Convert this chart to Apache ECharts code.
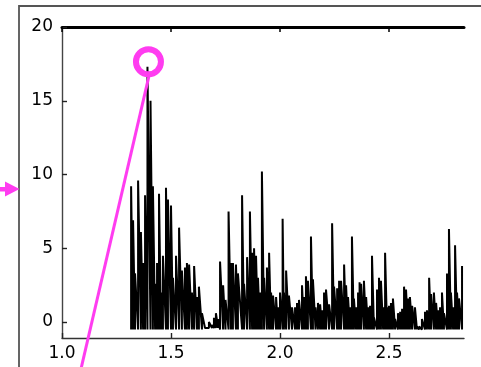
<!DOCTYPE html>
<html><head><meta charset="utf-8">
<script src="https://cdn.jsdelivr.net/npm/echarts@6/dist/echarts.min.js"></script>
<style>html,body{margin:0;padding:0;background:#fff}#c{width:481px;height:367px}</style>
</head><body><div id="c"></div>
<script>
// x positions of spectral lines
const peakX = [
 1.317,1.326,1.335,1.349,1.362,1.372,1.381,1.392,1.406,1.417,1.427,1.436,
 1.445,1.454,1.463,1.477,1.486,1.500,1.509,1.523,1.537,1.550,1.564,1.573,
 1.583,1.596,1.606,1.619,1.628,1.642,1.656,1.674,1.688,1.697,1.706,1.716,
 1.725,1.739,1.750,1.764,1.775,1.784,1.798,1.807,1.826,1.835,1.849,1.862,
 1.872,1.881,1.890,1.899,1.908,1.917,1.927,1.940,1.950,1.959,1.968,1.982,
 1.991,2.000,2.012,2.018,2.028,2.041,2.055,2.069,2.078,2.087,2.101,2.110,
 2.119,2.128,2.142,2.151,2.163,2.174,2.184,2.193,2.202,2.211,2.225,2.239,
 2.248,2.262,2.271,2.280,2.294,2.303,2.312,2.321,2.330,2.339,2.349,2.358,
 2.365,2.372,2.385,2.395,2.404,2.413,2.422,2.431,2.445,2.454,2.463,2.473,
 2.482,2.491,2.500,2.509,2.518,2.528,2.541,2.551,2.560,2.569,2.578,2.587,
 2.596,2.606,2.619,2.628,2.638,2.651,2.665,2.674,2.684,2.693,2.706,2.716,
 2.725,2.734,2.743,2.752,2.766,2.775,2.784,2.794,2.803,2.812,2.821,2.835
];
// peak heights
const peakY = [
 9.2,6.9,3.3,9.6,6.1,4.0,8.6,17.3,15.0,9.2,2.6,4.0,
 8.7,2.0,4.5,9.1,8.3,7.9,3.0,4.5,6.4,3.5,3.7,4.0,
 3.9,2.0,3.8,1.7,2.4,0.6,-0.3,0.0,-0.2,0.3,0.6,0.2,
 4.1,2.5,1.5,7.5,4.0,4.0,3.9,3.3,8.6,2.6,4.4,7.5,
 4.7,5.0,4.5,3.0,2.0,10.2,3.0,3.7,4.7,2.0,1.8,1.7,
 1.0,2.0,7.0,2.0,3.5,1.8,1.0,1.0,1.3,1.5,2.5,1.7,
 3.1,2.8,5.8,2.9,1.0,1.3,1.2,0.8,2.0,2.2,1.2,6.7,
 2.4,2.3,2.8,2.8,3.9,2.5,1.7,1.0,5.8,1.6,1.0,2.0,
 2.7,2.6,2.8,1.7,1.0,1.1,4.5,0.3,2.2,3.0,2.8,1.0,
 4.7,1.0,1.1,1.3,1.6,0.2,0.6,0.7,0.9,2.4,2.2,1.6,
 1.7,1.1,1.0,-0.3,-0.3,0.2,0.7,0.8,3.0,1.9,2.0,1.3,
 0.8,1.0,2.0,0.6,3.3,6.3,2.0,1.0,5.2,2.0,1.6,3.8
];
// lower end of each line (baseline)
const troughY = [
 -0.5,-0.5,-0.5,-0.5,-0.5,-0.5,-0.5,-0.5,-0.5,-0.5,-0.5,-0.5,
 -0.5,-0.5,-0.5,-0.5,-0.5,-0.5,-0.5,-0.5,-0.5,-0.5,-0.5,-0.5,
 -0.5,-0.5,-0.5,-0.5,-0.5,-0.5,-0.4,-0.4,-0.4,-0.4,-0.4,-0.4,
 -0.5,-0.5,-0.5,-0.5,-0.5,-0.5,-0.5,-0.5,-0.5,-0.5,-0.5,-0.5,
 -0.5,-0.5,-0.5,-0.5,-0.5,-0.5,-0.5,-0.5,-0.5,-0.5,-0.5,-0.5,
 -0.5,-0.5,-0.5,-0.5,-0.5,-0.5,-0.5,-0.5,-0.5,-0.5,-0.5,-0.5,
 -0.5,-0.5,-0.5,-0.5,-0.5,-0.5,-0.5,-0.5,-0.5,-0.5,-0.5,-0.5,
 -0.5,-0.5,-0.5,-0.5,-0.5,-0.5,-0.5,-0.5,-0.5,-0.5,-0.5,-0.5,
 -0.5,-0.5,-0.5,-0.5,-0.5,-0.5,-0.5,-0.5,-0.5,-0.5,-0.5,-0.5,
 -0.5,-0.5,-0.5,-0.5,-0.5,-0.5,-0.5,-0.5,-0.5,-0.5,-0.5,-0.5,
 -0.5,-0.5,-0.5,-0.5,-0.5,-0.5,-0.5,-0.5,-0.5,-0.5,-0.5,-0.5,
 -0.5,-0.5,-0.5,-0.5,-0.5,-0.5,-0.5,-0.5,-0.5,-0.5,-0.5,-0.5
];
const xTicks = [1.0, 1.5, 2.0, 2.5];
const yTicks = [0, 5, 10, 15, 20];

const MAG = '#ff3cf0';
const vertices = [];
for (let i = 0; i < peakX.length; i++) {
  vertices.push([peakX[i], troughY[i]]);
  vertices.push([peakX[i], peakY[i]]);
}

const chart = echarts.init(document.getElementById('c'), null, {renderer: 'canvas'});
const font = {fontFamily: 'DejaVu Sans', fontSize: 17, color: '#000'};
chart.setOption({
  animation: false,
  backgroundColor: '#fff',
  grid: {left: 62, right: 17, top: 27, bottom: 29, containLabel: false},
  xAxis: [{
    type: 'value', position: 'bottom', min: 1.0, max: 2.844,
    axisLine: {show: true, onZero: false, lineStyle: {color: '#333', width: 1.4}},
    axisTick: {show: true, inside: true, length: 5, customValues: xTicks, lineStyle: {color: '#222', width: 1.4}},
    axisLabel: Object.assign({margin: 7, customValues: xTicks, formatter: v => v.toFixed(1)}, font),
    splitLine: {show: false}
  }, {
    type: 'value', position: 'top', min: 1.0, max: 2.844,
    axisLine: {show: true, onZero: false, lineStyle: {color: '#000', width: 3}},
    axisTick: {show: true, inside: true, length: 5, customValues: xTicks, lineStyle: {color: '#000', width: 1.5}},
    axisLabel: {show: false},
    splitLine: {show: false}
  }],
  yAxis: {
    type: 'value', min: -1.08, max: 20,
    axisLine: {show: true, onZero: false, lineStyle: {color: '#444', width: 1.4}},
    axisTick: {show: true, inside: true, length: 5, customValues: yTicks, lineStyle: {color: '#222', width: 1.4}},
    axisLabel: Object.assign({margin: 9, customValues: yTicks}, font),
    splitLine: {show: false}
  },
  series: [{
    type: 'line', xAxisIndex: 0, data: vertices, showSymbol: false, symbol: 'none',
    lineStyle: {color: '#000', width: 2.0}, clip: true, silent: true
  }]
});

// annotations anchored to the highest peak
let pi = 0;
for (let i = 1; i < peakY.length; i++) if (peakY[i] > peakY[pi]) pi = i;
const pp = chart.convertToPixel({xAxisIndex: 0, yAxisIndex: 0}, [peakX[pi], peakY[pi]]);
const cx = pp[0] + 1, cy = pp[1] - 5;
chart.setOption({
  graphic: [
    {type: 'rect', shape: {x: 19, y: 6, width: 600, height: 500}, style: {fill: 'none', stroke: '#555', lineWidth: 1.8}, z: 10},
    {type: 'line', shape: {x1: cx + 1, y1: cy + 12, x2: 80.5, y2: 367 + 4}, style: {stroke: MAG, lineWidth: 3}, z: 20},
    {type: 'circle', shape: {cx: cx, cy: cy, r: 12.5}, style: {fill: 'none', stroke: MAG, lineWidth: 6}, z: 21},
    {type: 'rect', shape: {x: 0, y: 187, width: 6, height: 4.5}, style: {fill: MAG}, z: 20},
    {type: 'polygon', shape: {points: [[5, 181.5], [19.5, 189], [5, 196.5]]}, style: {fill: MAG}, z: 20}
  ]
});
</script></body></html>
